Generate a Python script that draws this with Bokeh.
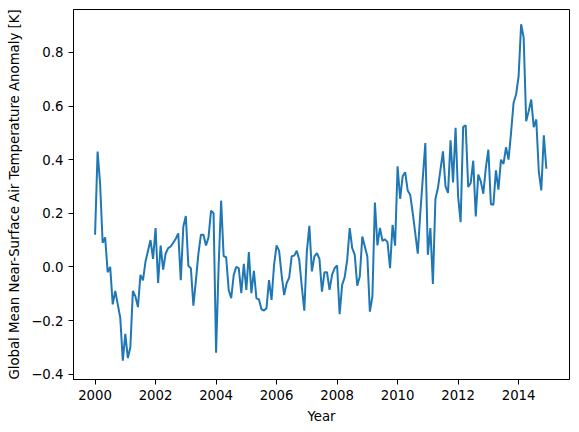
from bokeh.plotting import figure
from bokeh.models import Range1d, FixedTicker
from bokeh.embed import file_html
from bokeh.resources import INLINE

years = list(range(2000, 2015))

anom_2000 = [0.12, 0.43, 0.31, 0.09, 0.11, -0.02, 0.00, -0.14, -0.09, -0.14, -0.19, -0.35]
anom_2001 = [-0.25, -0.34, -0.30, -0.09, -0.11, -0.15, -0.03, -0.05, 0.02, 0.06, 0.10, 0.03]
anom_2002 = [0.145, -0.06, 0.08, -0.01, 0.05, 0.07, 0.076, 0.09, 0.105, 0.125, -0.05, 0.15]
anom_2003 = [0.19, 0.004, -0.005, -0.145, -0.05, 0.05, 0.12, 0.12, 0.08, 0.11, 0.21, 0.20]
anom_2004 = [-0.32, 0.0, 0.247, 0.04, 0.036, -0.086, -0.117, -0.03, 0.0, -0.005, -0.098, 0.011]
anom_2005 = [-0.086, 0.055, -0.098, -0.015, -0.117, -0.121, -0.158, -0.163, -0.154, -0.049, -0.123, 0.007]
anom_2006 = [0.08, 0.06, -0.03, -0.105, -0.06, -0.04, 0.04, 0.042, 0.06, 0.026, -0.074, -0.163]
anom_2007 = [0.057, 0.153, -0.017, 0.039, 0.051, 0.03, -0.092, -0.02, -0.02, -0.086, -0.03, -0.005]
anom_2008 = [0.005, -0.176, -0.067, -0.039, 0.026, 0.145, 0.07, 0.045, -0.07, -0.036, 0.113, 0.076]
anom_2009 = [0.039, -0.167, -0.111, 0.24, 0.08, 0.145, 0.097, 0.103, 0.092, -0.005, 0.157, 0.079]
anom_2010 = [0.375, 0.254, 0.338, 0.353, 0.285, 0.269, 0.201, 0.126, 0.049, 0.2, 0.332, 0.462]
anom_2011 = [0.045, 0.145, -0.064, 0.253, 0.294, 0.363, 0.431, 0.3, 0.276, 0.472, 0.315, 0.519]
anom_2012 = [0.263, 0.167, 0.522, 0.528, 0.298, 0.313, 0.396, 0.188, 0.344, 0.319, 0.273, 0.369]
anom_2013 = [0.437, 0.234, 0.232, 0.36, 0.288, 0.4, 0.384, 0.446, 0.4, 0.5, 0.612, 0.643]
anom_2014 = [0.711, 0.905, 0.855, 0.543, 0.581, 0.624, 0.521, 0.55, 0.356, 0.285, 0.491, 0.366]

x_ticks = [2000, 2002, 2004, 2006, 2008, 2010, 2012, 2014]
y_ticks = [-0.4, -0.2, 0.0, 0.2, 0.4, 0.6, 0.8]
y_tick_labels = ["\u22120.4", "\u22120.2", "0.0", "0.2", "0.4", "0.6", "0.8"]

all_years = [anom_2000, anom_2001, anom_2002, anom_2003, anom_2004, anom_2005, anom_2006,
             anom_2007, anom_2008, anom_2009, anom_2010, anom_2011, anom_2012, anom_2013, anom_2014]
anomaly = [v for yr in all_years for v in yr]
time = [y + m / 12.0 for y in years for m in range(12)]

p = figure(width=578, height=431, output_backend="svg", toolbar_location=None,
           x_range=Range1d(1999.287, 2015.682), y_range=Range1d(-0.420, 0.960),
           min_border_left=73, min_border_right=9, min_border_top=9, min_border_bottom=52,
           background_fill_color="white", border_fill_color="white")

p.line(time, anomaly, line_color="#1f77b4", line_width=2)

p.grid.visible = False
p.outline_line_color = "black"
p.outline_line_width = 1

p.xaxis.ticker = FixedTicker(ticks=x_ticks)
p.xaxis.major_label_overrides = {t: str(t) for t in x_ticks}
p.yaxis.ticker = FixedTicker(ticks=y_ticks)
p.yaxis.major_label_overrides = {t: l for t, l in zip(y_ticks, y_tick_labels)}

p.xaxis.axis_label = "Year"
p.yaxis.axis_label = "Global Mean Near-Surface Air Temperature Anomaly [K]"

for ax in (p.xaxis[0], p.yaxis[0]):
    ax.axis_line_color = "black"
    ax.major_tick_line_color = "black"
    ax.major_tick_out = 5
    ax.major_tick_in = 0
    ax.minor_tick_line_color = None
    ax.major_label_text_font = "DejaVu Sans"
    ax.major_label_text_font_size = "13.3px"
    ax.major_label_text_color = "black"
    ax.major_label_standoff = 5
    ax.axis_label_text_font = "DejaVu Sans"
    ax.axis_label_text_font_size = "13.3px"
    ax.axis_label_text_font_style = "normal"
    ax.axis_label_text_color = "black"
    ax.axis_label_standoff = 6

open("out.html", "w").write(file_html(p, INLINE))
